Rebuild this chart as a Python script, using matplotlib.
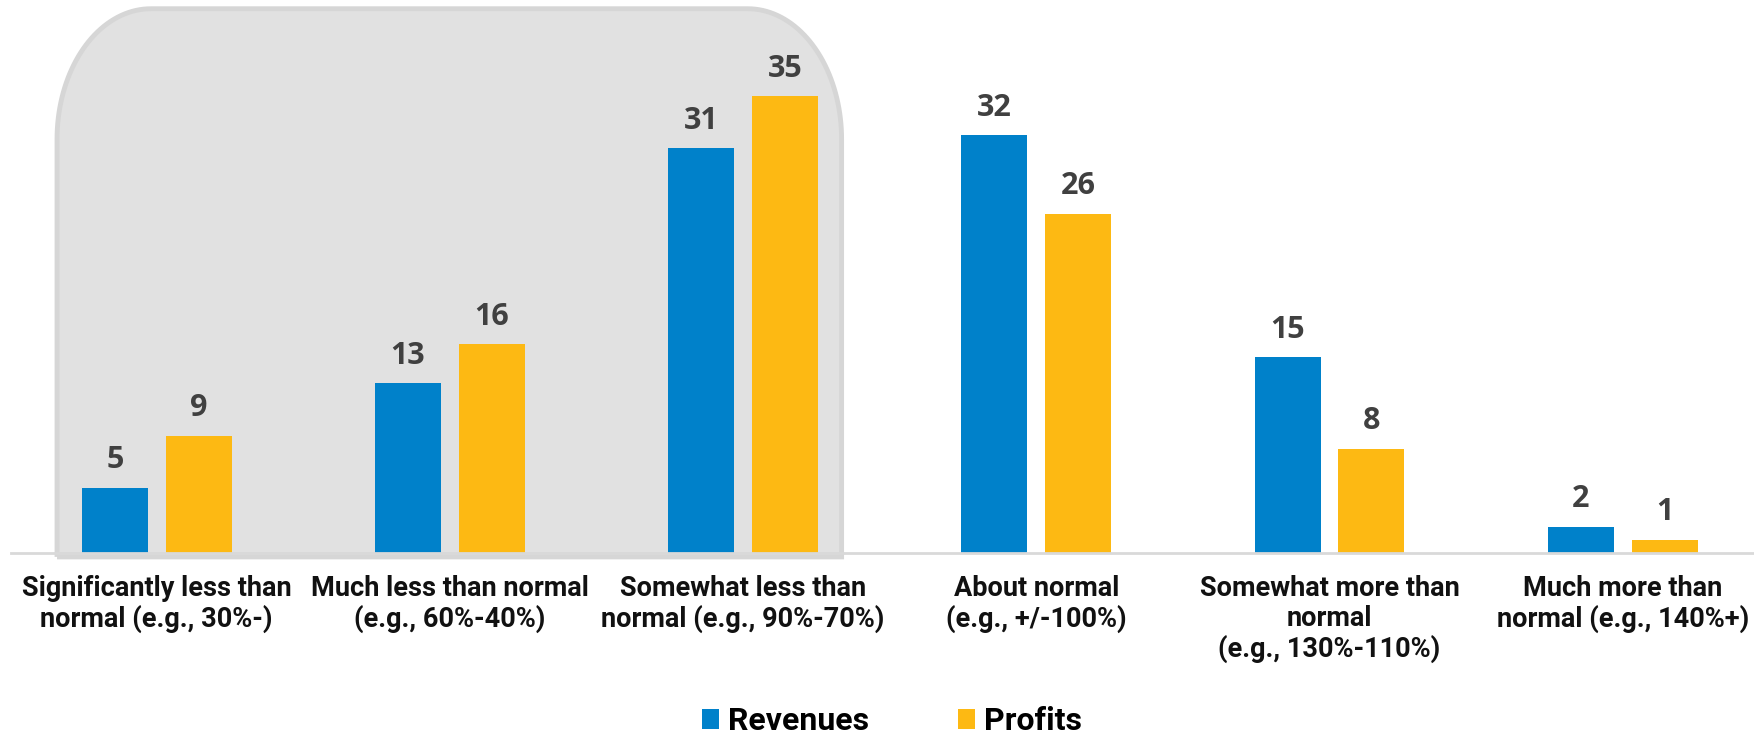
import numpy as np
import matplotlib
matplotlib.use("Agg")
import matplotlib.pyplot as plt
from matplotlib import font_manager
from matplotlib.path import Path
from matplotlib.patches import PathPatch

# veriler
kategoriler = ["Significantly less than\nnormal (e.g., 30%-)",
               "Much less than normal\n(e.g., 60%-40%)",
               "Somewhat less than\nnormal (e.g., 90%-70%)",
               "About normal\n(e.g., +/-100%)",
               "Somewhat more than\nnormal\n(e.g., 130%-110%)",
               "Much more than\nnormal (e.g., 140%+)"]
gelir = [5, 13, 31, 32, 15, 2]
kar = [9, 16, 35, 26, 8, 1]
seriler = ["Revenues", "Profits"]

mavi = "#0081CA"
sari = "#FDB913"

# font secimi
isimler = {f.name for f in font_manager.fontManager.ttflist}
dar = "Roboto" if "Roboto" in isimler else "DejaVu Sans"
rakam_font = "Open Sans" if "Open Sans" in isimler else "DejaVu Sans"

fig = plt.figure(figsize=(17.54, 7.36), dpi=100)
ax = fig.add_axes([11 / 1754, 183 / 736, 1 - 11 / 1754, 553 / 736])

x = np.arange(len(kategoriler))
w = 0.225
ofs = 0.143

# gri yuvarlak kutu (ilk uc kategori)
x0, x1, y0, y1 = -0.34, 2.336, -0.3, 41.7
rx, ry = 0.32, 10.0
t = np.linspace(0, np.pi / 2, 40)
sol_ust = np.column_stack([x0 + rx - rx * np.cos(t), y1 - ry + ry * np.sin(t)])
sag_ust = np.column_stack([x1 - rx + rx * np.sin(t), y1 - ry + ry * np.cos(t)])
noktalar = np.vstack([[x0, y0], sol_ust, sag_ust, [x1, y0], [x0, y0]])
kutu = PathPatch(Path(noktalar), facecolor="#E1E1E1", edgecolor="#D6D6D6",
                 linewidth=3.5, zorder=0, clip_on=False)
ax.add_patch(kutu)

b1 = ax.bar(x - ofs, gelir, w, color=mavi, label=seriler[0], zorder=2)
b2 = ax.bar(x + ofs, kar, w, color=sari, label=seriler[1], zorder=2)

for bars in (b1, b2):
    ax.bar_label(bars, padding=9, fontsize=22, fontweight="bold",
                 color="#404040", family=rakam_font)

ax.set_xlim(-0.497, 5.448)
ax.set_ylim(0, 42.37)
ax.set_yticks([])
ax.set_xticks(x)
ax.set_xticklabels(kategoriler, fontsize=19.5, fontweight="bold", family=dar,
                   linespacing=1.12, color="#111111")
ax.tick_params(axis="x", length=0, pad=16)
for s in ["top", "right", "left"]:
    ax.spines[s].set_visible(False)
ax.spines["bottom"].set_color("#D9D9D9")
ax.spines["bottom"].set_linewidth(2)
ax.patch.set_alpha(0)

fig.legend(loc="center", bbox_to_anchor=(0.5085, 15 / 736), ncol=2, frameon=False,
           prop={"family": dar, "weight": "bold", "size": 23},
           handlelength=0.55, handleheight=0.6, handletextpad=0.28,
           columnspacing=2.76, borderpad=0)

fig.savefig("out.png", dpi=100)
